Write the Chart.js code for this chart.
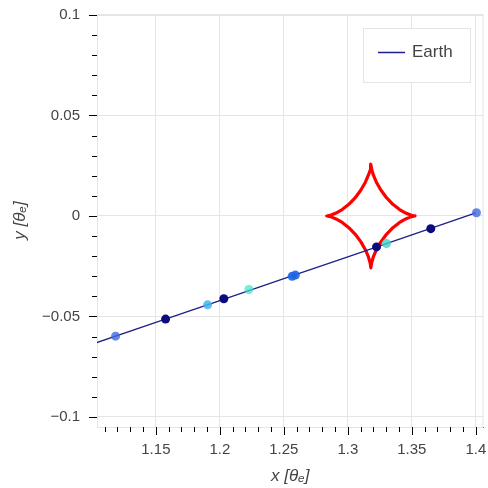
<!DOCTYPE html>
<html lang="en">
<head>
    <meta charset="UTF-8">
    <script src="https://cdn.jsdelivr.net/npm/chart.js"></script>
    <style>
        body, html {
            margin: 0;
            padding: 0;
            background: #fff;
        }
        #wrap {
            width: 488px;
            height: 488px;
        }
    </style>
</head>
<body>
    <div id="wrap"><canvas id="c" width="488" height="488"></canvas></div>
    <script>
        // Earth track (line)
        const trackX = [1.100, 1.150, 1.200, 1.250, 1.300, 1.350, 1.400];
        const trackY = [-0.0638, -0.0529, -0.0421, -0.0312, -0.0203, -0.0094, 0.0015];

        // observation points along the track
        const obsX = [1.1185, 1.1576, 1.1904, 1.2031, 1.2227, 1.2565, 1.2590, 1.3224, 1.3302, 1.3648, 1.4005];
        const obsY = [-0.0598, -0.0513, -0.0442, -0.0412, -0.0366, -0.0300, -0.0294, -0.0154, -0.0137, -0.0063, 0.0016];
        const obsColors = [
            'rgba(65,105,225,0.8)', '#0b0b7e', 'rgba(70,180,240,0.85)', '#0b0b7e',
            'rgba(64,224,200,0.7)', 'rgba(30,100,230,0.9)', 'rgba(30,100,230,0.9)',
            '#0b0b7e', 'rgba(64,210,200,0.8)', '#0b0b7e', 'rgba(65,105,225,0.8)'
        ];

        // caustic (red)
        const causticX = [
            1.3525, 1.3521, 1.3491, 1.3452, 1.3404, 1.3352, 1.3302, 1.3258, 1.3223, 1.3199, 1.3186, 1.3180, 1.3180,
            1.3180, 1.3174, 1.3161, 1.3137, 1.3102, 1.3058, 1.3008, 1.2956, 1.2908, 1.2869, 1.2839, 1.2835,
            1.2839, 1.2869, 1.2908, 1.2956, 1.3008, 1.3058, 1.3102, 1.3137, 1.3161, 1.3174, 1.3180, 1.3180,
            1.3180, 1.3186, 1.3199, 1.3223, 1.3258, 1.3302, 1.3352, 1.3404, 1.3452, 1.3491, 1.3521, 1.3525
        ];
        const causticY = [
            0, 0.00002, 0.00045, 0.00145, 0.0032, 0.0058, 0.0091, 0.0129, 0.0168, 0.0204, 0.0233, 0.0255, 0.0258,
            0.0255, 0.0233, 0.0204, 0.0168, 0.0129, 0.0091, 0.0058, 0.0032, 0.00145, 0.00045, 0.00002, 0,
            -0.00002, -0.00045, -0.00145, -0.0032, -0.0058, -0.0091, -0.0129, -0.0168, -0.0204, -0.0233, -0.0255, -0.0258,
            -0.0255, -0.0233, -0.0204, -0.0168, -0.0129, -0.0091, -0.0058, -0.0032, -0.00145, -0.00045, -0.00002, 0
        ];

        // axes
        const xTicks = [1.15, 1.20, 1.25, 1.30, 1.35, 1.40];
        const xTickLabels = ['1.15', '1.2', '1.25', '1.3', '1.35', '1.4'];
        const yTicks = [-0.1, -0.05, 0, 0.05, 0.1];
        const yTickLabels = ['\u22120.1', '\u22120.05', '0', '0.05', '0.1'];
        const xMinor = [1.11, 1.12, 1.13, 1.14, 1.16, 1.17, 1.18, 1.19, 1.21, 1.22, 1.23, 1.24, 1.26, 1.27, 1.28, 1.29,
                        1.31, 1.32, 1.33, 1.34, 1.36, 1.37, 1.38, 1.39];
        const yMinor = [-0.09, -0.08, -0.07, -0.06, -0.04, -0.03, -0.02, -0.01, 0.01, 0.02, 0.03, 0.04, 0.06, 0.07, 0.08, 0.09];

        const font = "'Liberation Sans', Arial, sans-serif";
        const textColor = '#444';
        const trackColor = '#1f1f8c';

        const toPts = (xs, ys) => xs.map((v, i) => ({ x: v, y: ys[i] }));

        // bokeh-like decorations: outline, tick marks, legend box
        const decor = {
            id: 'decor',
            beforeDatasetsDraw(chart) {
                const { ctx, chartArea: a } = chart;
                ctx.save();
                ctx.strokeStyle = '#e5e5e5';
                ctx.lineWidth = 1;
                ctx.strokeRect(a.left + 0.5, a.top + 0.5, a.right - a.left - 1, a.bottom - a.top);
                ctx.restore();
            },
            afterDraw(chart) {
                const { ctx, chartArea: a, scales } = chart;
                const xs = scales.x, ys = scales.y;
                ctx.save();
                ctx.strokeStyle = '#000';
                ctx.lineWidth = 1;
                ctx.beginPath();
                xTicks.forEach(v => { const p = Math.round(xs.getPixelForValue(v)) + 0.5; ctx.moveTo(p, a.bottom); ctx.lineTo(p, a.bottom + 8); });
                xMinor.forEach(v => { const p = Math.round(xs.getPixelForValue(v)) + 0.5; ctx.moveTo(p, a.bottom); ctx.lineTo(p, a.bottom + 5); });
                yTicks.forEach(v => { const p = Math.round(ys.getPixelForValue(v)) + 0.5; ctx.moveTo(a.left, p); ctx.lineTo(a.left - 8, p); });
                yMinor.forEach(v => { const p = Math.round(ys.getPixelForValue(v)) + 0.5; ctx.moveTo(a.left, p); ctx.lineTo(a.left - 5, p); });
                ctx.stroke();

                // legend
                const bx = 363, by = 28, bw = 107, bh = 54;
                ctx.fillStyle = 'rgba(255,255,255,0.95)';
                ctx.fillRect(bx, by, bw, bh);
                ctx.strokeStyle = '#e5e5e5';
                ctx.strokeRect(bx + 0.5, by + 0.5, bw, bh);
                const ds = chart.data.datasets[1];
                ctx.strokeStyle = ds.borderColor;
                ctx.lineWidth = 1.5;
                ctx.beginPath();
                ctx.moveTo(378, 52.5);
                ctx.lineTo(405, 52.5);
                ctx.stroke();
                ctx.fillStyle = textColor;
                ctx.font = '17px ' + font;
                ctx.textBaseline = 'middle';
                ctx.fillText(ds.label, 412, 52);
                ctx.restore();
            }
        };

        new Chart(document.getElementById('c'), {
            type: 'scatter',
            data: {
                datasets: [
                    {
                        label: 'obs',
                        data: toPts(obsX, obsY),
                        pointRadius: 4.5,
                        pointBorderWidth: 0,
                        pointBackgroundColor: obsColors,
                        showLine: false
                    },
                    {
                        label: 'Earth',
                        data: toPts(trackX, trackY),
                        showLine: true,
                        borderColor: trackColor,
                        borderWidth: 1.3,
                        pointRadius: 0
                    },
                    {
                        label: 'caustic',
                        data: toPts(causticX, causticY),
                        showLine: true,
                        borderColor: '#ff0000',
                        borderWidth: 3.2,
                        borderJoinStyle: 'round',
                        borderCapStyle: 'round',
                        pointRadius: 0
                    }
                ]
            },
            options: {
                responsive: false,
                animation: false,
                events: [],
                layout: { padding: { top: 14, right: 4, left: 0, bottom: 0 } },
                plugins: {
                    legend: { display: false },
                    tooltip: { enabled: false }
                },
                scales: {
                    x: {
                        type: 'linear',
                        min: 1.104,
                        max: 1.406,
                        afterBuildTicks: s => { s.ticks = xTicks.map(v => ({ value: v })); },
                        afterFit: s => { s.height = 61; s.paddingLeft = 0; s.paddingRight = 0; },
                        grid: { color: '#e5e5e5', drawTicks: false },
                        border: { display: true, color: '#000', width: 1 },
                        ticks: {
                            padding: 14,
                            color: textColor,
                            font: { family: font, size: 15 },
                            maxRotation: 0,
                            callback: (v, i) => xTickLabels[i]
                        },
                        title: {
                            display: true,
                            text: 'x [\u03b8\u2091]',
                            color: textColor,
                            font: { family: font, size: 17, style: 'italic' },
                            padding: { top: 0, bottom: 2 }
                        }
                    },
                    y: {
                        type: 'linear',
                        min: -0.105,
                        max: 0.1005,
                        afterBuildTicks: s => { s.ticks = yTicks.map(v => ({ value: v })); },
                        afterFit: s => { s.width = 97; s.paddingTop = 0; s.paddingBottom = 0; },
                        grid: { color: '#e5e5e5', drawTicks: false },
                        border: { display: true, color: '#000', width: 1 },
                        ticks: {
                            padding: 17,
                            color: textColor,
                            font: { family: font, size: 15 },
                            callback: (v, i) => yTickLabels[i]
                        },
                        title: {
                            display: true,
                            text: 'y [\u03b8\u2091]',
                            color: textColor,
                            font: { family: font, size: 17, style: 'italic' },
                            padding: { top: 10, bottom: 0 }
                        }
                    }
                }
            },
            plugins: [decor]
        });
    </script>
</body>
</html>
